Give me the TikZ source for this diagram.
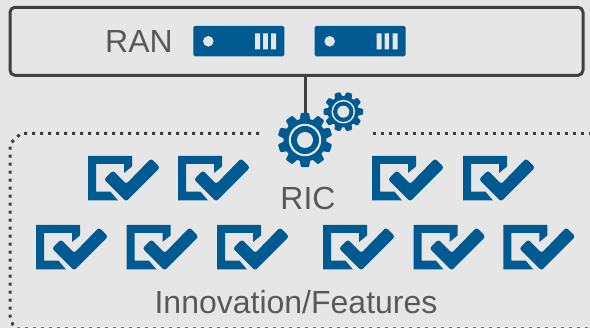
\documentclass[tikz,border=0pt]{standalone}
\usepackage{fontspec}
\setmainfont{Liberation Sans}
\definecolor{bg}{HTML}{E6E6E6}
\definecolor{blu}{HTML}{005A92}
\definecolor{dk}{HTML}{404040}
\definecolor{txt}{HTML}{595959}
\newcommand{\srv}[2]{%
 \begin{scope}[shift={(#1,#2)}]
 \fill[blu,rounded corners=1.5] (0,0) rectangle (91,30.3);
 \fill[bg] (15,15.3) circle (5.3);
 \fill[bg] (61.8,7.3) rectangle (66.8,23.3) (69.8,7.3) rectangle (74.5,23.3) (77.8,7.3) rectangle (82.8,23.3);
 \end{scope}}
\newcommand{\chk}[2]{%
 \begin{scope}[shift={(#1,#2)}]
 \fill[blu] (0,0) -- (44,0) -- (44,10.5) -- (36,17) -- (36,8) -- (8,8) -- (8,35.7) -- (22.5,35.7) -- (30,44.5) -- (0,44.5) -- cycle;
 \fill[blu,rounded corners=2.5] (25,14.5) -- (38.2,28) -- (63,2.5) -- (72,11.5) -- (38.2,45.5) -- (16,23.5) -- cycle;
 \end{scope}}
\newcommand{\gear}[5]{%
 \begin{scope}[shift={(#1,#2)}]
 \foreach \a in {0,36,...,324} {
  \fill[blu,rounded corners=1] (#4+\a-16:#3*.72) -- (#4+\a-8.5:#3) -- (#4+\a+8.5:#3) -- (#4+\a+16:#3*.72) -- cycle;
 }
 \fill[blu] (0,0) circle (#3*.78);
 \fill[bg] (0,0) circle (#3*.59);
 \fill[blu] (0,0) circle (#3*.51);
 \fill[bg] (0,0) circle (#5);
 \end{scope}}
\begin{document}
\begin{tikzpicture}[x=1pt,y=-1pt,
 lbl/.style={text=txt,font=\fontsize{32}{36}\selectfont,inner sep=0},
 dotline/.style={dk,line width=3,dash pattern=on 3 off 5}]
\useasboundingbox (0,0) rectangle (590,328);
\fill[bg] (0,0) rectangle (590,328);
\draw[dk,line width=3,rounded corners=5] (10,7.3) -- (583,7.3) -- (583,75.3) -- (10,75.3) -- cycle;
\coordinate (ranb) at (305.5,75.3);
\coordinate (gearc) at (305.5,120);
\draw[dk,line width=3] (ranb) -- (gearc);
\node[lbl,anchor=base west] (ran) at (105,52.7) {RAN};
\srv{193.3}{26}
\srv{314.7}{26}
\gear{305}{140}{27.5}{18}{8}
\gear{343.3}{111.7}{20}{0}{6}
\draw[dotline] (259,133.3) -- (21,133.3) -- (10,144) -- (10,316) -- (13,325) -- (18,329) -- (595,329);
\draw[dotline] (373,133.3) -- (595,133.3);
\chk{88}{156}
\chk{178}{156}
\chk{372}{156}
\chk{463}{156}
\chk{36}{225}
\chk{126.5}{225}
\chk{217}{225}
\chk{323}{225}
\chk{413.5}{225}
\chk{503.3}{225}
\node[lbl] (ric) at (308,198) {RIC};
\node[lbl] (inn) at (296,302) {Innovation/Features};
\end{tikzpicture}
\end{document}
